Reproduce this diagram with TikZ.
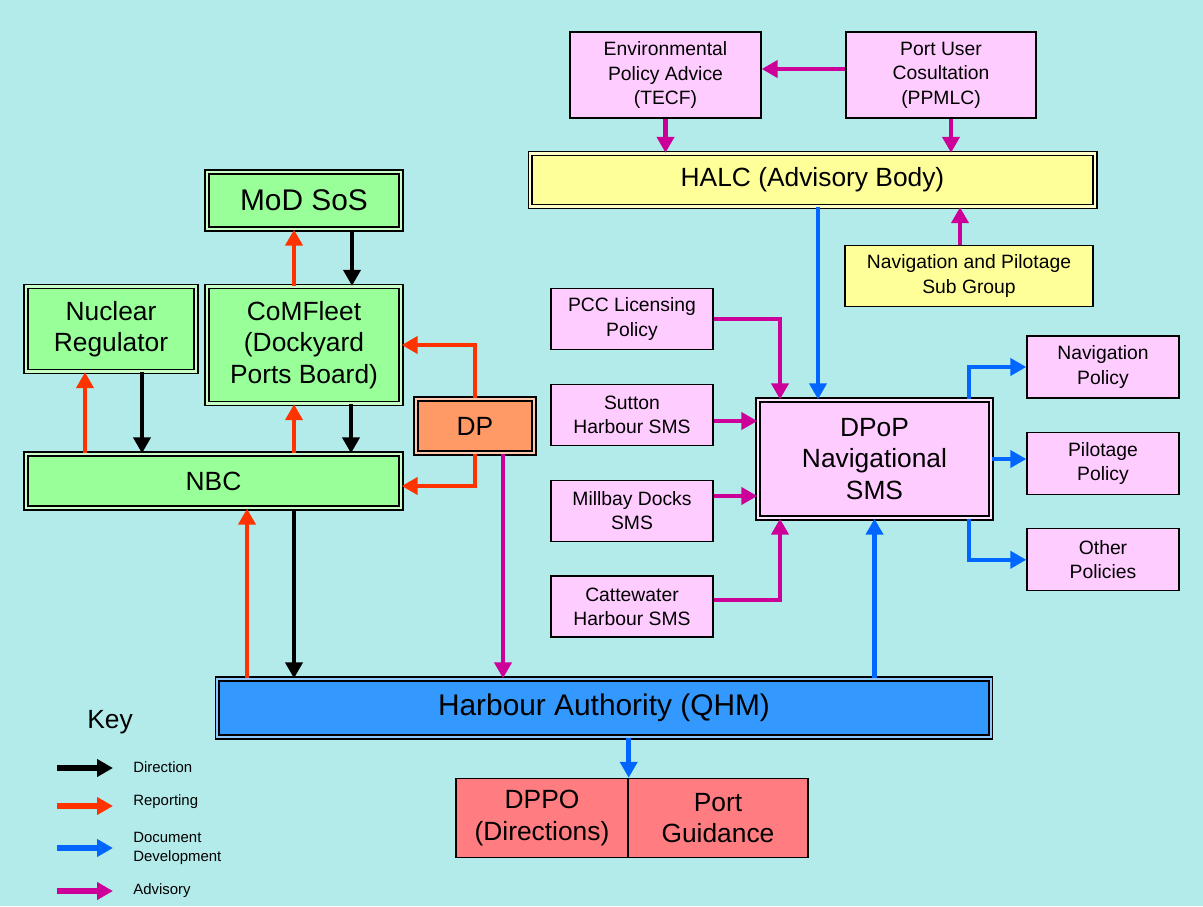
\documentclass[tikz,border=0pt]{standalone}
\usepackage{fontspec}
\setmainfont{Liberation Sans}
\usetikzlibrary{arrows.meta,positioning,calc}
\definecolor{bgCyan}{HTML}{B3EBEA}
\definecolor{boxGreen}{HTML}{99FF99}
\definecolor{boxPink}{HTML}{FFCCFF}
\definecolor{boxYellow}{HTML}{FFFF99}
\definecolor{boxOrange}{HTML}{FF9966}
\definecolor{boxBlue}{HTML}{3399FF}
\definecolor{boxRed}{HTML}{FF7C80}
\definecolor{lineRed}{HTML}{FF3300}
\definecolor{lineBlue}{HTML}{0066FF}
\definecolor{lineMagenta}{HTML}{CC0099}

\begin{document}
\begin{tikzpicture}[
    x=0.02cm, y=-0.02cm,
    box/.style={draw=black, line width=0.8pt, inner sep=2pt, align=center, font=\fontsize{11}{14}\selectfont},
    smallbox/.style={box, fill=boxPink, minimum width=3.24cm, minimum height=1.22cm},
    dbox/.style={draw=black, line width=0.8pt, double=#1!55!white, double distance=1.3pt, fill=#1, inner sep=2pt, align=center, font=\fontsize{15}{18}\selectfont},
    wire/.style={line width=2.5pt, -{Triangle[length=0.32cm, width=0.34cm]}},
    dirwire/.style={wire, black},
    repwire/.style={wire, lineRed},
    docwire/.style={wire, lineBlue},
    advwire/.style={wire, lineMagenta},
    keywire/.style={line width=3.2pt, -{Triangle[length=0.32cm, width=0.34cm]}},
    keytext/.style={anchor=west, align=left, inner sep=0pt, font=\fontsize{8.5}{10.8}\selectfont}
  ]
    \fill[bgCyan] (0,0) rectangle (1203,906);
    \useasboundingbox (0,0) rectangle (1203,906);

    \node[smallbox, minimum width=3.82cm, minimum height=1.72cm] (tecf) at (665.5,75) {Environmental\\Policy Advice\\(TECF)};
    \node[smallbox, minimum width=3.8cm, minimum height=1.72cm] (ppmlc) at (941,75) {Port User\\Cosultation\\(PPMLC)};
    \node[dbox=boxYellow, minimum width=11.3cm, minimum height=1.06cm] (halc) at (812.5,180) {HALC (Advisory Body)};
    \node[box, fill=boxYellow, minimum width=4.96cm, minimum height=1.22cm] (navpil) at (969,276) {Navigation and Pilotage\\Sub Group};

    \node[dbox=boxGreen, font=\fontsize{17}{20}\selectfont, minimum width=3.88cm, minimum height=1.14cm] (mod) at (304,200.5) {MoD SoS};
    \node[dbox=boxGreen, minimum width=3.88cm, minimum height=2.34cm] (comfleet) at (304,345) {CoMFleet\\(Dockyard\\Ports Board)};
    \node[dbox=boxGreen, minimum width=3.4cm, minimum height=1.7cm] (nuclear) at (111,329) {Nuclear\\Regulator};
    \node[dbox=boxGreen, minimum width=7.5cm, minimum height=1.08cm] (nbc) at (213.5,481) {NBC};
    \node[dbox=boxOrange, minimum width=2.36cm, minimum height=1.08cm] (dp) at (475,426) {DP};

    \node[smallbox] (pcc) at (632,319) {PCC Licensing\\Policy};
    \node[smallbox, below=0.67cm of pcc] (sutton) {Sutton\\Harbour SMS};
    \node[smallbox, below=0.67cm of sutton] (millbay) {Millbay Docks\\SMS};
    \node[smallbox, below=0.67cm of millbay] (catte) {Cattewater\\Harbour SMS};

    \node[dbox=boxPink, minimum width=4.66cm, minimum height=2.36cm] (dpop) at (874.5,459) {DPoP\\Navigational\\SMS};
    \node[smallbox, minimum width=3.04cm, minimum height=1.24cm] (navpol) at (1103,367) {Navigation\\Policy};
    \node[smallbox, minimum width=3.04cm, minimum height=1.24cm, below=0.66cm of navpol] (pilpol) {Pilotage\\Policy};
    \node[smallbox, minimum width=3.04cm, minimum height=1.24cm, below=0.66cm of pilpol] (othpol) {Other\\Policies};

    \node[dbox=boxBlue, font=\fontsize{17}{20}\selectfont, minimum width=15.48cm, minimum height=1.16cm] (qhm) at (604,708) {Harbour Authority (QHM)};
    \node[box, fill=boxRed, font=\fontsize{15}{18}\selectfont, minimum width=3.44cm, minimum height=1.58cm] (dppo) at (542,818) {DPPO\\(Directions)};
    \node[box, fill=boxRed, font=\fontsize{15}{18}\selectfont, minimum width=3.6cm, minimum height=1.58cm, right=-0.8pt of dppo] (guide) {Port\\Guidance};

    \node[font=\fontsize{15}{18}\selectfont] (key) at (110,722) {Key};
    \node[keytext] (kdir) at (133,767) {Direction};
    \node[keytext] (krep) at (133,802) {Reporting};
    \node[keytext] (kdoc) at (133,848) {Document\\Development};
    \node[keytext] (kadv) at (133,891) {Advisory};
    \coordinate (kd) at (57,768);
    \coordinate (kr) at (57,806);
    \coordinate (kc) at (57,848);
    \coordinate (ka) at (57,891);
    \draw[keywire, black] (kd) -- ++(56,0);
    \draw[keywire, lineRed] (kr) -- ++(56,0);
    \draw[keywire, lineBlue] (kc) -- ++(56,0);
    \draw[keywire, lineMagenta] (ka) -- ++(56,0);

    \draw[advwire] (ppmlc.west |- 0,69) -- (tecf.east |- 0,69);
    \draw[advwire] (tecf.south) -- (tecf.south |- halc.north);
    \draw[advwire] (ppmlc.south -| 951,0) -- (halc.north -| 951,0);
    \draw[advwire] (navpil.north -| 960,0) -- (halc.south -| 960,0);
    \draw[docwire] (halc.south -| 818,0) -- (dpop.north -| 818,0);
    \draw[advwire] (pcc.east) -| (dpop.north -| 780,0);
    \draw[advwire] (sutton.east |- 0,421) -- (dpop.west |- 0,421);
    \draw[advwire] (millbay.east |- 0,496) -- (dpop.west |- 0,496);
    \draw[advwire] (catte.east |- 0,600) -| (dpop.south -| 780,0);
    \draw[docwire] (dpop.north -| 969,0) |- (navpol.west);
    \draw[docwire] (dpop.east) -- (pilpol.west |- dpop.east);
    \draw[docwire] (dpop.south -| 969,0) |- (othpol.west);
    \draw[docwire] (qhm.north -| dpop.south) -- (dpop.south);
    \draw[docwire] (qhm.south -| dppo.east) -- (dppo.north east);

    \draw[repwire] (comfleet.north -| 294,0) -- (mod.south -| 294,0);
    \draw[dirwire] (mod.south -| 352,0) -- (comfleet.north -| 352,0);
    \draw[repwire] (nbc.north -| 294,0) -- (comfleet.south -| 294,0);
    \draw[dirwire] (comfleet.south -| 351,0) -- (nbc.north -| 351,0);
    \draw[repwire] (nbc.north -| 85,0) -- (nuclear.south -| 85,0);
    \draw[dirwire] (nuclear.south -| 142,0) -- (nbc.north -| 142,0);
    \draw[repwire] (qhm.north -| 247,0) -- (nbc.south -| 247,0);
    \draw[dirwire] (nbc.south -| 294,0) -- (qhm.north -| 294,0);
    \draw[repwire] (dp.north) |- (comfleet.east);
    \draw[repwire] (dp.south) |- (nbc.east |- 0,486);
    \draw[advwire] (dp.south -| 503,0) -- (qhm.north -| 503,0);
  \end{tikzpicture}
\end{document}
